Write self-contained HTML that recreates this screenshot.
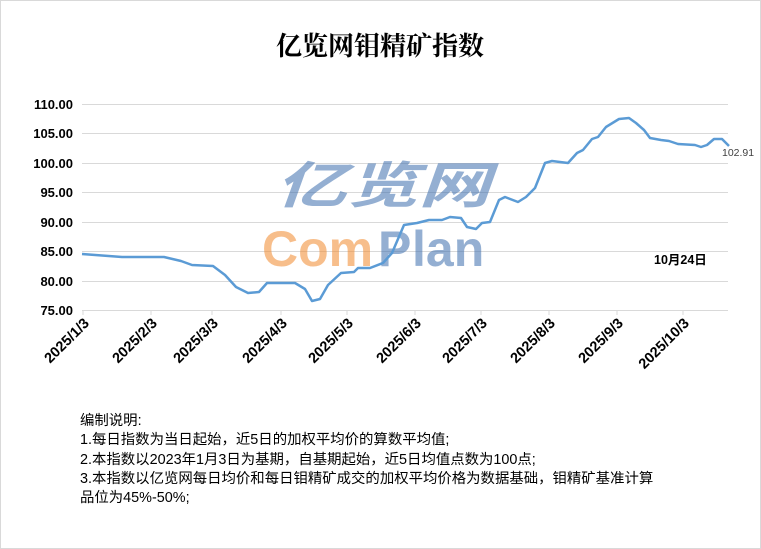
<!DOCTYPE html>
<html><head><meta charset="utf-8"><style>
html,body{margin:0;padding:0;background:#fff}
body{width:761px;height:549px;overflow:hidden;position:relative}
.frame{position:absolute;left:0;top:0;width:759px;height:547px;border:1px solid #d9d9d9}
svg{position:absolute;left:0;top:0}
.notes{position:absolute;left:80px;top:412px;font:14.4px/19.3px "Liberation Sans","Noto Sans CJK SC",sans-serif;color:#000;width:640px}
</style></head><body>
<div class="frame"></div>
<svg width="761" height="549" xmlns="http://www.w3.org/2000/svg">
<text x="380" y="55" text-anchor="middle" font-family="'Liberation Serif','Noto Serif CJK SC',serif" font-weight="bold" font-size="26">亿览网钼精矿指数</text>
<g stroke="#d9d9d9" stroke-width="1">
<line x1="82" x2="728" y1="104.5" y2="104.5"/>
<line x1="82" x2="728" y1="133.5" y2="133.5"/>
<line x1="82" x2="728" y1="163.5" y2="163.5"/>
<line x1="82" x2="728" y1="192.5" y2="192.5"/>
<line x1="82" x2="728" y1="222.5" y2="222.5"/>
<line x1="82" x2="728" y1="251.5" y2="251.5"/>
<line x1="82" x2="728" y1="281.5" y2="281.5"/>
<line x1="82" x2="728" y1="310.5" y2="310.5"/>
<line x1="83" x2="83" y1="310" y2="315"/>
<line x1="151" x2="151" y1="310" y2="315"/>
<line x1="212" x2="212" y1="310" y2="315"/>
<line x1="281" x2="281" y1="310" y2="315"/>
<line x1="347" x2="347" y1="310" y2="315"/>
<line x1="415" x2="415" y1="310" y2="315"/>
<line x1="481" x2="481" y1="310" y2="315"/>
<line x1="549" x2="549" y1="310" y2="315"/>
<line x1="617" x2="617" y1="310" y2="315"/>
<line x1="683" x2="683" y1="310" y2="315"/>
</g>
<g font-family="'Liberation Sans',sans-serif" font-weight="bold" font-size="13" text-anchor="end">
<text x="73" y="109">110.00</text>
<text x="73" y="138">105.00</text>
<text x="73" y="168">100.00</text>
<text x="73" y="197">95.00</text>
<text x="73" y="227">90.00</text>
<text x="73" y="256">85.00</text>
<text x="73" y="286">80.00</text>
<text x="73" y="315">75.00</text>
</g>
<g font-family="'Liberation Sans',sans-serif" font-weight="bold" font-size="14.5" text-anchor="end">
<text transform="translate(90,324) rotate(-45)">2025/1/3</text>
<text transform="translate(158,324) rotate(-45)">2025/2/3</text>
<text transform="translate(219,324) rotate(-45)">2025/3/3</text>
<text transform="translate(288,324) rotate(-45)">2025/4/3</text>
<text transform="translate(354,324) rotate(-45)">2025/5/3</text>
<text transform="translate(422,324) rotate(-45)">2025/6/3</text>
<text transform="translate(488,324) rotate(-45)">2025/7/3</text>
<text transform="translate(556,324) rotate(-45)">2025/8/3</text>
<text transform="translate(624,324) rotate(-45)">2025/9/3</text>
<text transform="translate(690,324) rotate(-45)">2025/10/3</text>
</g>
<g opacity="0.55" font-family="'Liberation Sans','Noto Sans CJK SC',sans-serif" font-weight="bold" font-style="italic">
<text x="275" y="203" font-size="50" fill="#3d6fae" textLength="215" lengthAdjust="spacingAndGlyphs">亿览网</text>
<text x="262" y="266" font-size="50" fill="#f28a2e" font-style="normal">Com</text>
<text x="378" y="266" font-size="50" fill="#3d6fae" font-style="normal">P</text>
<text x="412" y="266" font-size="50" fill="#3d6fae" font-style="normal">lan</text>
</g>
<polyline fill="none" stroke="#5b9bd5" stroke-width="2.5" stroke-linejoin="round" points="82,254 122,257 164,257 181,261 192,265 213,266 225,275 236,287 248,293 259,292 267,283 278,283 295,283 305,289 312,301 320,299 328,285 341,273 354,272 358,268 370,268 383,263 392,253 404,225 417,223 429,220 442,220 450,217 461,218 467,227 476,229 482,223 490,222 499,200 505,197 518,202 526,197 535,188 545,163 552,161 568,163 577,153 583,150 592,139 598,137 606,127 619,119 629,118 636,123 644,130 650,138 661,140 669,141 678,144 695,145 701,147 707,145 714,139 722,139 729,146"/>
<text x="722" y="156" font-family="'Liberation Sans',sans-serif" font-size="10.5" fill="#404040">102.91</text>
<text x="654" y="264" font-family="'Liberation Sans','Noto Sans CJK SC',sans-serif" font-weight="bold" font-size="12.5">10月24日</text>
</svg>
<div class="notes">编制说明:<br>1.每日指数为当日起始，近5日的加权平均价的算数平均值;<br>2.本指数以2023年1月3日为基期，自基期起始，近5日均值点数为100点;<br>3.本指数以亿览网每日均价和每日钼精矿成交的加权平均价格为数据基础，钼精矿基准计算<br>品位为45%-50%;</div>
</body></html>
